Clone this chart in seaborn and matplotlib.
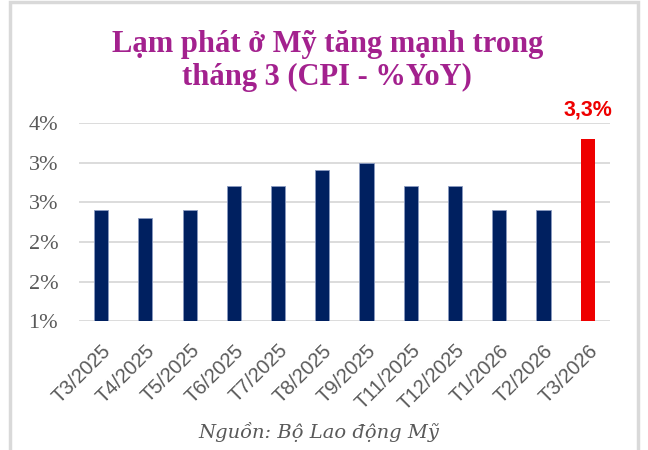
import numpy as np
import matplotlib
matplotlib.use('Agg')
import matplotlib.pyplot as plt
from matplotlib.ticker import FuncFormatter
from matplotlib.patches import Rectangle
import seaborn as sns

# CPI YoY (%) by month
months = ['T3/2025', 'T4/2025', 'T5/2025', 'T6/2025', 'T7/2025', 'T8/2025',
          'T9/2025', 'T11/2025', 'T12/2025', 'T1/2026', 'T2/2026', 'T3/2026']
cpi = [2.4, 2.3, 2.4, 2.7, 2.7, 2.9, 3.0, 2.7, 2.7, 2.4, 2.4, 3.3]
y_ticks = [1.0, 1.5, 2.0, 2.5, 3.0, 3.5]
last_label = '3,3%'

navy = '#002060'
red = '#EE0000'
colors = [navy] * (len(months) - 1) + [red]

sns.set_style('white')

fig = plt.figure(figsize=(6.48, 4.5), dpi=100)
ax = fig.add_axes([0.122, 0.286, 0.819, 0.441])

sns.barplot(x=months, y=cpi, hue=months, palette=colors, legend=False,
            width=0.32, saturation=1, ax=ax, edgecolor='none', zorder=3)
for p, c in zip(ax.patches, colors):
    if c == navy:
        p.set_edgecolor('#8a9ac0')
        p.set_linewidth(0.6)

ax.set_ylim(1.0, 3.5)
ax.set_xlim(-0.5, len(months) - 0.5)
ax.set_yticks(y_ticks)
ax.yaxis.set_major_formatter(FuncFormatter(lambda v, pos: f'{int(np.floor(v + 0.5))}%'))
ax.grid(axis='y', color='#d9d9d9', linewidth=1.3, zorder=0)
ax.grid(axis='x', visible=False)
sns.despine(ax=ax, left=True, bottom=True, top=True, right=True)
ax.tick_params(axis='both', length=0)
ax.tick_params(axis='y', pad=15)

for lab in ax.get_yticklabels():
    lab.set_fontfamily('Liberation Serif')
    lab.set_fontsize(16)
    lab.set_color('#595959')
ax.set_xticks(range(len(months)))
ax.set_xticklabels(months, rotation=45, ha='right', rotation_mode='anchor',
                   fontsize=14.5, color='#595959', fontfamily='Liberation Sans')
ax.tick_params(axis='x', pad=14)
ax.set_xlabel('')
ax.set_ylabel('')

ax.text(len(months) - 1, 3.5 + 0.03, last_label, ha='center', va='bottom',
        color=red, fontsize=15.5, fontweight='bold', fontfamily='Liberation Sans')

fig.text(0.505, 0.864, 'Lạm phát ở Mỹ tăng mạnh trong\ntháng 3 (CPI - %YoY)',
         ha='center', va='center', fontsize=22, fontweight='bold',
         color='#A3218E', fontfamily='Liberation Serif', linespacing=1.2)
fig.text(0.492, 0.04, 'Nguồn: Bộ Lao động Mỹ', ha='center', va='center',
         fontsize=14, style='italic', color='#595959', fontfamily='DejaVu Serif')

fig.patches.append(Rectangle((10 / 648, -0.05), 628 / 648, 1.05 - 2 / 450,
                             transform=fig.transFigure, fill=False,
                             edgecolor='#d9d9d9', linewidth=2.5))

fig.savefig('out.png', dpi=100)
